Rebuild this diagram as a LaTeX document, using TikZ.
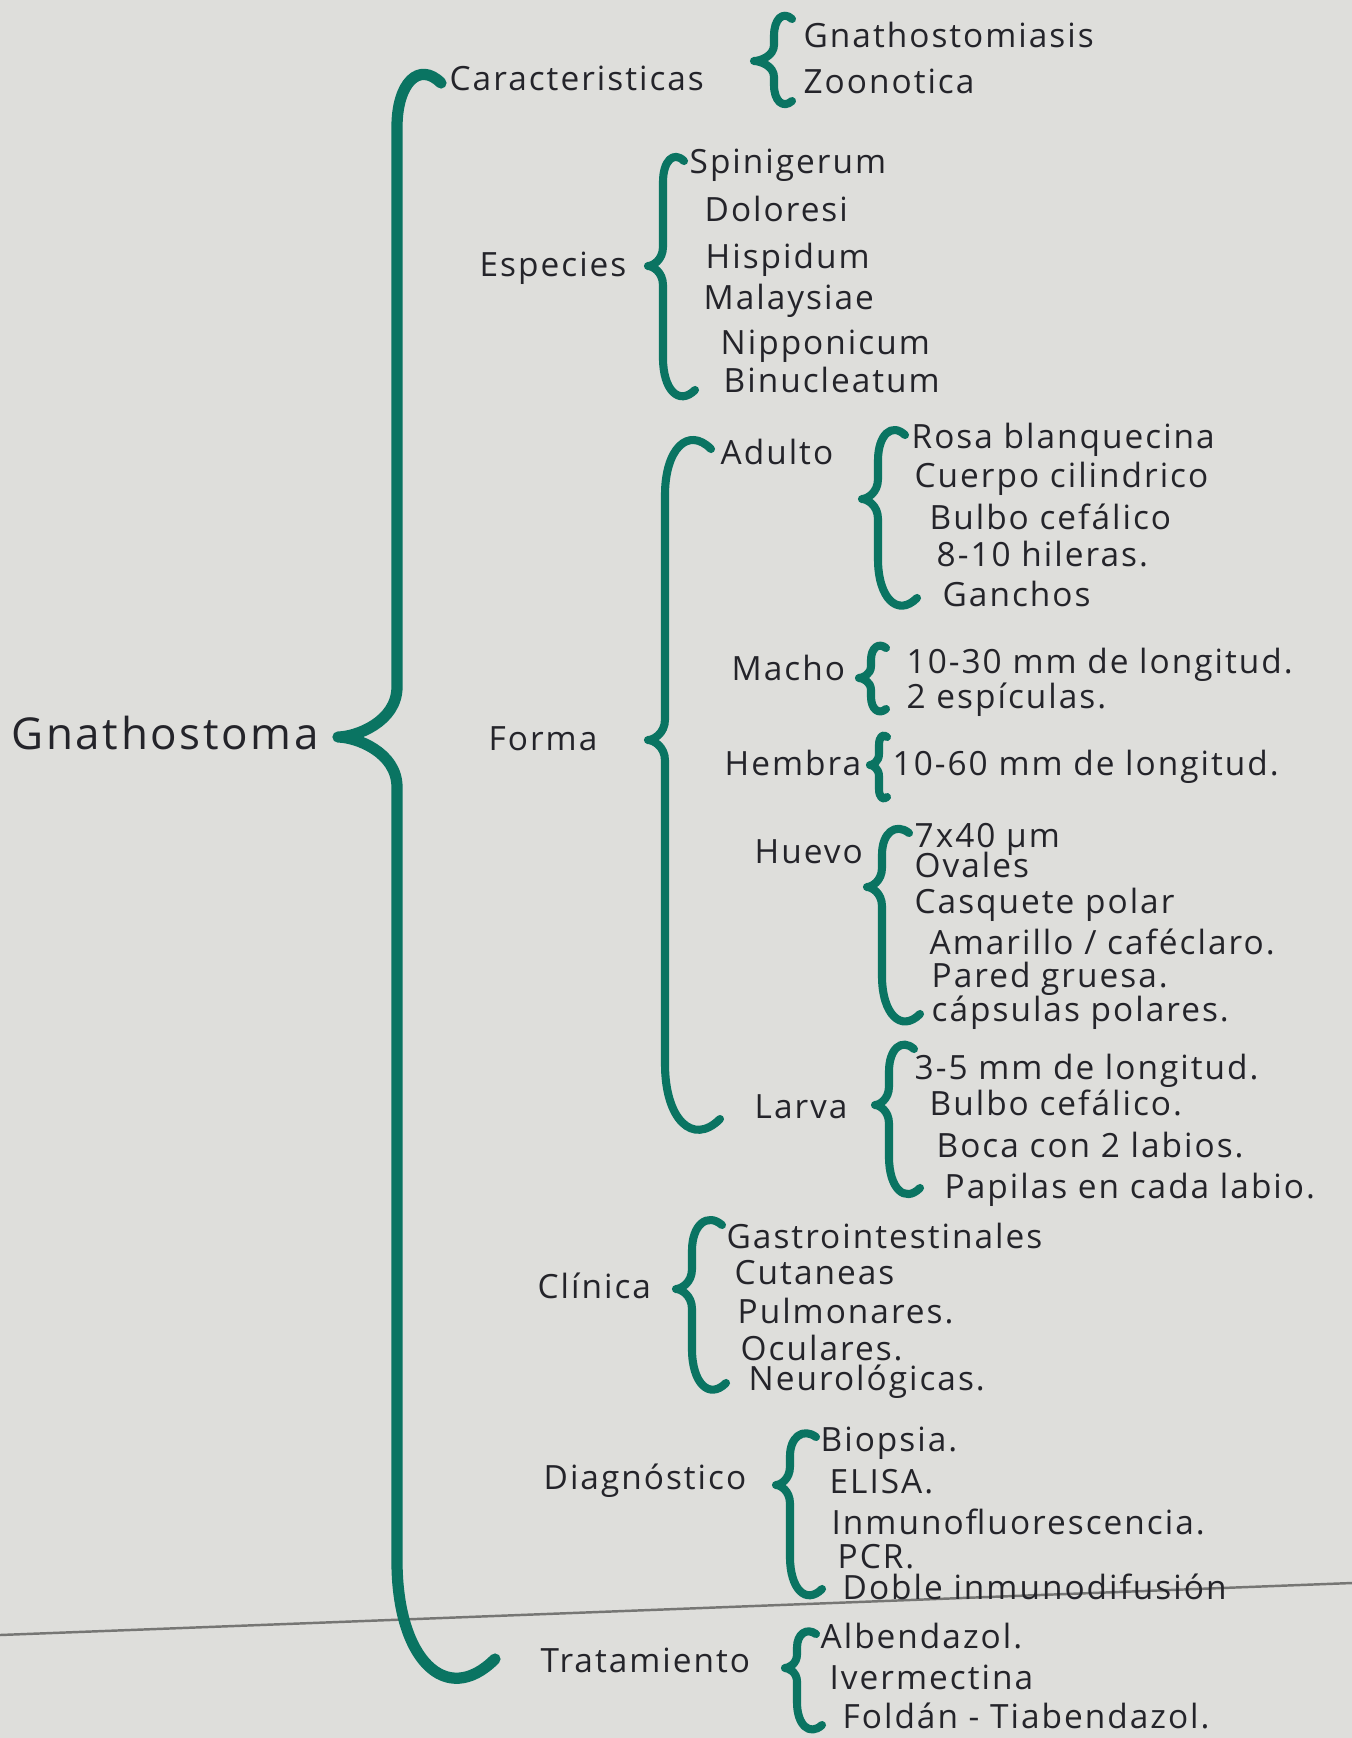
\documentclass[tikz,border=0pt]{standalone}
\usepackage{fontspec}
\setmainfont{Open Sans}[LetterSpace=6]
\usetikzlibrary{calc}

\definecolor{paper}{RGB}{222,222,219}
\definecolor{ink}{RGB}{36,36,42}
\definecolor{marker}{RGB}{10,116,98}
\definecolor{fold}{RGB}{118,118,116}

% hand drawn curly brace: [body offset] {tip} {top end} {bottom end}
\newcommand{\handbrace}[4][16]{%
  \draw[bracepen] let \p1 = (#2), \p2 = (#3), \p3 = (#4),
      \n1 = {\x1 + #1*0.2845pt},
      \n2 = {min(\x2-\n1, (\y2-\y1)/2.5)},
      \n3 = {min(\x3-\n1, (\y1-\y3)/2.5)},
      \n4 = {min(0.7*#1*0.2845pt+2.5pt, (\y2-\y1)/2.5, (\y1-\y3)/2.5)}
    in (\p2) .. controls ({\x2-0.5*(\x2-\n1)}, {\y2+0.5*\n2}) and (\n1,\y2) .. (\n1,{\y2-\n2})
       -- (\n1,{\y1+\n4}) .. controls (\n1,{\y1+0.3*\n4}) and ({\x1+0.3*(\n1-\x1)},\y1) .. (\p1)
       .. controls ({\x1+0.3*(\n1-\x1)},\y1) and (\n1,{\y1-0.3*\n4}) .. (\n1,{\y1-\n4})
       -- (\n1,{\y3+\n3}) .. controls (\n1,\y3) and ({\x3-0.5*(\x3-\n1)},{\y3-0.5*\n3}) .. (\p3);}

\begin{document}
\begin{tikzpicture}[x=0.1mm, y=-0.1mm,
    topic/.style={anchor=west, inner sep=0pt, text=ink, font=\fontsize{9.5}{11}\selectfont, text height=1.5ex, text depth=0.35ex},
    root/.style={topic, font=\fontsize{12.5}{15}\selectfont},
    bracepen/.style={draw=marker, line width=2.3pt, line cap=round, line join=round}]
    \fill[paper] (0,0) rectangle (1352,1738);
    \useasboundingbox (0,0) rectangle (1352,1738);
    \draw[fold, line width=0.7pt] (0,1635) -- (1352,1583);

    \node[root] (gnat) at (11,739) {Gnathostoma};

    % caracteristicas
    \node[topic] (carac) at (449,80) {Caracteristicas};
    \node[topic] (gnatosis) at (803,37) {Gnathostomiasis};
    \node[topic] (zoon) at (803,83) {Zoonotica};

    % especies
    \node[topic] (esp) at (479,266) {Especies};
    \node[topic] (spin) at (689,163) {Spinigerum};
    \node[topic] (dolo) at (704,211) {Doloresi};
    \node[topic] (hisp) at (705,258) {Hispidum};
    \node[topic] (mala) at (703,299) {Malaysiae};
    \node[topic] (nipp) at (720,344) {Nipponicum};
    \node[topic] (binu) at (723,382) {Binucleatum};

    % forma
    \node[topic] (forma) at (488,740) {Forma};
    \node[topic] (adul) at (720,454) {Adulto};
    \node[topic] (rosa) at (911,438) {Rosa blanquecina};
    \node[topic] (cuer) at (914,477) {Cuerpo cilindrico};
    \node[topic] (bulb) at (929,519) {Bulbo cefálico};
    \node[topic] (hile) at (936,556) {8-10 hileras.};
    \node[topic] (ganc) at (942,596) {Ganchos};
    \node[topic] (mach) at (731,670) {Macho};
    \node[topic] (long1) at (906,663) {10-30 mm de longitud.};
    \node[topic] (espi) at (906,698) {2 espículas.};
    \node[topic] (hemb) at (724,765) {Hembra};
    \node[topic] (long2) at (892,765) {10-60 mm de longitud.};
    \node[topic] (huev) at (754,853) {Huevo};
    \node[topic] (tam) at (914,837) {7x40 µm};
    \node[topic] (oval) at (914,867) {Ovales};
    \node[topic] (casq) at (914,903) {Casquete polar};
    \node[topic] (amar) at (929,944) {Amarillo / caféclaro.};
    \node[topic] (pare) at (931,977) {Pared gruesa.};
    \node[topic] (caps) at (931,1011) {cápsulas polares.};
    \node[topic] (larv) at (754,1108) {Larva};
    \node[topic] (long3) at (914,1069) {3-5 mm de longitud.};
    \node[topic] (bulb2) at (929,1105) {Bulbo cefálico.};
    \node[topic] (boca) at (936,1147) {Boca con 2 labios.};
    \node[topic] (papi) at (944,1188) {Papilas en cada labio.};

    % clinica
    \node[topic] (clin) at (537,1288) {Clínica};
    \node[topic] (gast) at (726,1238) {Gastrointestinales};
    \node[topic] (cuta) at (734,1274) {Cutaneas};
    \node[topic] (pulm) at (737,1313) {Pulmonares.};
    \node[topic] (ocul) at (740,1350) {Oculares.};
    \node[topic] (neur) at (748,1380) {Neurológicas.};

    % diagnostico
    \node[topic] (diag) at (543,1479) {Diagnóstico};
    \node[topic] (biop) at (820,1441) {Biopsia.};
    \node[topic] (elis) at (829,1483) {ELISA.};
    \node[topic] (inmu) at (831,1524) {Inmunofluorescencia.};
    \node[topic] (pcr) at (837,1558) {PCR.};
    \node[topic] (dobl) at (842,1589) {Doble inmunodifusión};

    % tratamiento
    \node[topic] (trat) at (540,1662) {Tratamiento};
    \node[topic] (albe) at (820,1638) {Albendazol.};
    \node[topic] (iver) at (829,1679) {Ivermectina};
    \node[topic] (fold) at (842,1718) {Foldán - Tiabendazol.};

    % brace tips
    \coordinate (gnat-tip) at (338,737);
    \coordinate (carac-tip) at (754,61);
    \coordinate (esp-tip) at (648,266);
    \coordinate (forma-tip) at (648,740);
    \coordinate (adul-tip) at (862,499);
    \coordinate (mach-tip) at (859,678);
    \coordinate (hemb-tip) at (870,765);
    \coordinate (huev-tip) at (867,887);
    \coordinate (larv-tip) at (875,1105);
    \coordinate (clin-tip) at (676,1289);
    \coordinate (diag-tip) at (776,1485);
    \coordinate (trat-tip) at (785,1668);

    \begin{scope}[bracepen/.append style={line width=3.2pt}]
    \handbrace[59]{gnat-tip}{$(carac.west)+(-8,3)$}{$(trat.west)+(-45,-3)$}
    \end{scope}
    \handbrace[20]{carac-tip}{$(gnatosis.west)+(-11,-18)$}{$(zoon.west)+(-11,18)$}
    \handbrace[15]{esp-tip}{$(spin.west)+(-5,-2)$}{$(binu.west)+(-28,8)$}
    \handbrace[17]{forma-tip}{$(adul.west)+(-9,-5)$}{$(larv.west)+(-34,11)$}
    \handbrace[16]{adul-tip}{$(rosa.west)+(-6,-3)$}{$(ganc.west)+(-25,2)$}
    \handbrace[12]{mach-tip}{$(long1.west)+(-20,-15)$}{$(espi.west)+(-20,11)$}
    \handbrace[9]{hemb-tip}{$(long2.west)+(-5,-28)$}{$(long2.west)+(-5,32)$}
    \handbrace[15]{huev-tip}{$(tam.west)+(-5,-4)$}{$(caps.west)+(-11,3)$}
    \handbrace[14]{larv-tip}{$(long3.west)+(0,-20)$}{$(papi.west)+(-24,0)$}
    \handbrace[16]{clin-tip}{$(gast.west)+(-4,-13)$}{$(neur.west)+(-22,3)$}
    \handbrace[14]{diag-tip}{$(biop.west)+(-4,-4)$}{$(dobl.west)+(-20,0)$}
    \handbrace[12]{trat-tip}{$(albe.west)+(-4,-4)$}{$(fold.west)+(-20,7)$}
\end{tikzpicture}
\end{document}
